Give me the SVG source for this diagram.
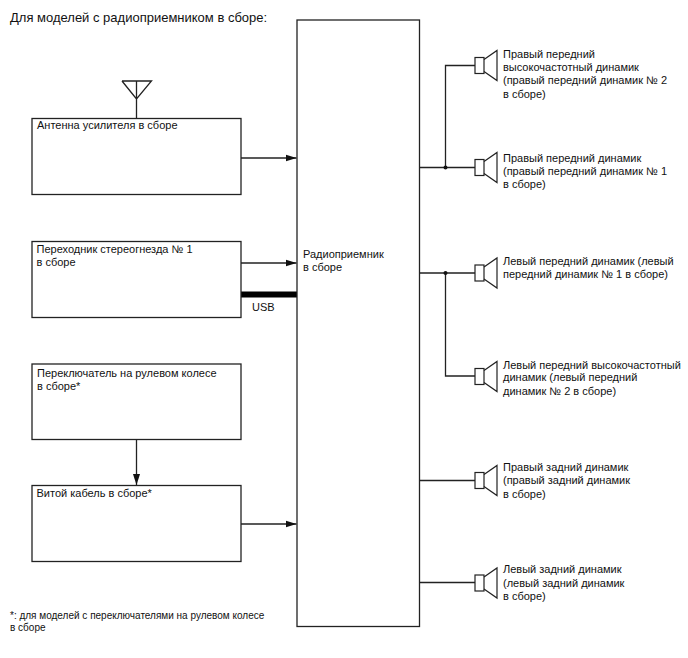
<svg xmlns="http://www.w3.org/2000/svg" width="688" height="658" viewBox="0 0 688 658">
<style>
text{font-family:"Liberation Sans",Arial,sans-serif;font-size:11px;fill:#111}
.b{fill:#fff;stroke:#222;stroke-width:1.3}
.l{fill:none;stroke:#222;stroke-width:1.3}
</style>
<defs>
<marker id="a" markerUnits="userSpaceOnUse" markerWidth="12" markerHeight="8" refX="11" refY="4" orient="auto"><path d="M0 0.500L11 4L0 7.500z" fill="#111"/></marker>
<g id="spk"><rect x="0" y="-8" width="9" height="16" fill="#fff" stroke="#222" stroke-width="1.2"/><path d="M9 -6L22 -15V15L9 6" fill="none" stroke="#222" stroke-width="1.2"/></g>
</defs>
<rect width="688" height="658" fill="#fff"/>
<text x="10" y="22" style="font-size:13px">Для моделей с радиоприемником в сборе:</text>
<g id="connectors">
<path class="l" d="M136.500 81V118.500M122 81H151.500L136.500 99L122 81" />
<path class="l" d="M241 158H296.500" marker-end="url(#a)"/>
<path class="l" d="M241 263H296.500" marker-end="url(#a)"/>
<path d="M241 294.500H297" stroke="#000" stroke-width="6" fill="none"/>
<path class="l" d="M136.500 440V485" marker-end="url(#a)"/>
<path class="l" d="M241 524H296.500" marker-end="url(#a)"/>
<path class="l" d="M419 167.500H475M445.500 167.500V65.500H475"/>
<path class="l" d="M419 273H475M445.500 273V376H475"/>
<path class="l" d="M419 480.500H475M419 582.500H475"/>
<circle cx="445.500" cy="167.500" r="2" fill="#111"/>
<circle cx="445.500" cy="273" r="2" fill="#111"/>
</g>
<g id="radio"><rect class="b" x="297" y="20" width="122.500" height="606.500"/><text x="303" y="258">Радиоприемник</text><text x="303" y="271">в сборе</text></g>
<g id="antenna"><rect class="b" x="32" y="118.500" width="209" height="76"/><text x="37" y="129">Антенна усилителя в сборе</text></g>
<g id="stereo"><rect class="b" x="32" y="241.500" width="209" height="76"/><text x="36.500" y="253">Переходник стереогнезда № 1</text><text x="36.500" y="266">в сборе</text></g>
<g id="usb-label"><text x="252" y="311">USB</text></g>
<g id="switch"><rect class="b" x="32" y="364" width="209" height="75.500"/><text x="37" y="377">Переключатель на рулевом колесе</text><text x="37" y="390">в сборе*</text></g>
<g id="cable"><rect class="b" x="32" y="485.500" width="209" height="76"/><text x="36.500" y="497">Витой кабель в сборе*</text></g>
<g id="s1"><use href="#spk" x="475" y="65.500"/><text x="503" y="58">Правый передний</text><text x="503" y="71">высокочастотный динамик</text><text x="503" y="84">(правый передний динамик № 2</text><text x="503" y="98">в сборе)</text></g>
<g id="s2"><use href="#spk" x="475" y="167.500"/><text x="503" y="162">Правый передний динамик</text><text x="503" y="175">(правый передний динамик № 1</text><text x="503" y="188">в сборе)</text></g>
<g id="s3"><use href="#spk" x="475" y="273"/><text x="503" y="265">Левый передний динамик (левый</text><text x="503" y="278">передний динамик № 1 в сборе)</text></g>
<g id="s4"><use href="#spk" x="475" y="376.500"/><text x="503" y="369">Левый передний высокочастотный</text><text x="503" y="381">динамик (левый передний</text><text x="503" y="395">динамик № 2 в сборе)</text></g>
<g id="s5"><use href="#spk" x="475" y="480.500"/><text x="503" y="471">Правый задний динамик</text><text x="503" y="484">(правый задний динамик</text><text x="503" y="498">в сборе)</text></g>
<g id="s6"><use href="#spk" x="475" y="583"/><text x="503" y="573">Левый задний динамик</text><text x="503" y="587">(левый задний динамик</text><text x="503" y="600">в сборе)</text></g>
<text x="10" y="619" style="font-size:10px">*: для моделей с переключателями на рулевом колесе</text>
<text x="10" y="631" style="font-size:10px">в сборе</text>
</svg>
